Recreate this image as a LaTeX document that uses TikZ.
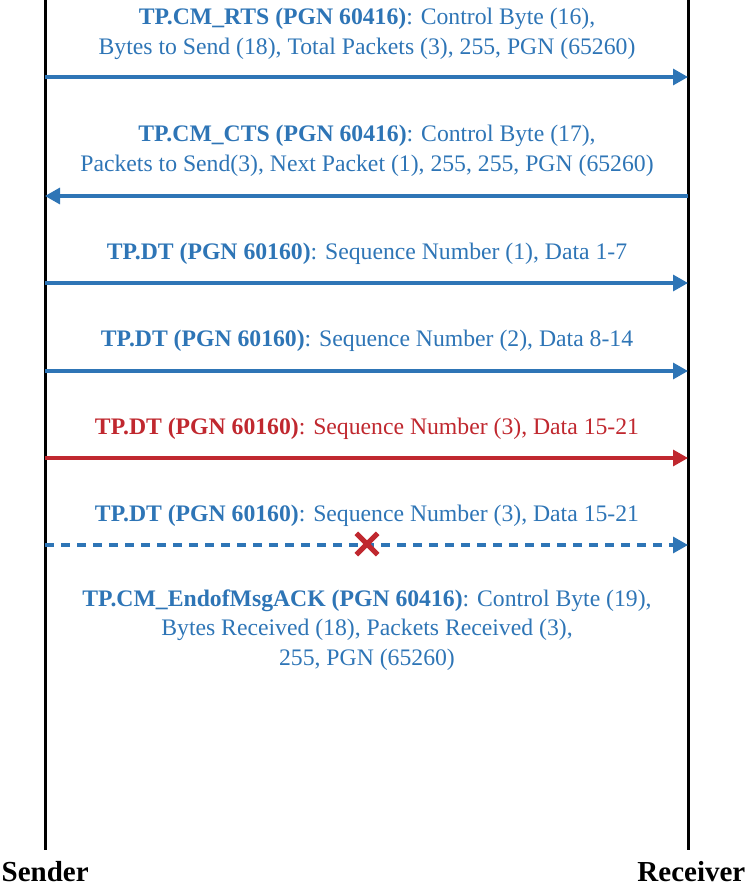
\documentclass[tikz,border=0pt]{standalone}
\usepackage{fontspec}
\setmainfont{Liberation Serif}
\usetikzlibrary{arrows.meta}
\definecolor{msgblue}{HTML}{2E75B6}
\definecolor{msgred}{HTML}{C0282F}
\begin{document}
\begin{tikzpicture}[x=1pt,y=-1pt,
  lifeline/.style={line width=3pt,black},
  msg/.style={line width=3.2pt,msgblue,-{Triangle[length=15pt,width=16pt]}},
  msgtext/.style={font=\fontsize{23.7}{29.5}\selectfont,text=msgblue,align=center,inner sep=0pt},
  actor/.style={font=\fontsize{29}{32}\selectfont\bfseries,inner sep=0pt}]
\useasboundingbox (0,0) rectangle (747,886);
\coordinate (st) at (45,0);
\coordinate (sb) at (45,850);
\coordinate (rt) at (688,0);
\coordinate (rb) at (688,850);
\draw[lifeline] (st) -- (sb);
\draw[lifeline] (rt) -- (rb);
\node[actor,anchor=base west] (sender) at (1.5,881) {Sender};
\node[actor,anchor=base east] (receiver) at (745.5,881) {Receiver};
% y positions
\foreach \n/\y in {1/77,2/196,3/283,4/371,5/458,6/545,7/688}{
  \coordinate (s\n) at (45,\y);
  \coordinate (r\n) at (688,\y);
}
\draw[msg] (s1) -- (r1);
\draw[msg] (r2) -- (s2);
\draw[msg] (s3) -- (r3);
\draw[msg] (s4) -- (r4);
\draw[msg,msgred] (s5) -- (r5);
\draw[msg,dash pattern=on 9pt off 7pt] (s6) -- (r6);
\node[inner sep=0pt,minimum size=21pt] (lost) at (367,544) {};
\draw[msgred,line width=5pt] (lost.north west) -- (lost.south east);
\draw[msgred,line width=5pt] (lost.north east) -- (lost.south west);
\node[msgtext] (t1) at (367,34) {\textbf{TP.CM\_RTS (PGN 60416)}: Control Byte (16),\\Bytes to Send (18), Total Packets (3), 255, PGN (65260)};
\node[msgtext] (t2) at (367,151) {\textbf{TP.CM\_CTS (PGN 60416)}: Control Byte (17),\\Packets to Send(3), Next Packet (1), 255, 255, PGN (65260)};
\node[msgtext] (t3) at (367,254) {\textbf{TP.DT (PGN 60160)}: Sequence Number (1), Data 1-7};
\node[msgtext] (t4) at (367,341) {\textbf{TP.DT (PGN 60160)}: Sequence Number (2), Data 8-14};
\node[msgtext,text=msgred] (t5) at (367,429) {\textbf{TP.DT (PGN 60160)}: Sequence Number (3), Data 15-21};
\node[msgtext] (t6) at (367,516) {\textbf{TP.DT (PGN 60160)}: Sequence Number (3), Data 15-21};
\node[msgtext] (t7) at (367,630) {\textbf{TP.CM\_EndofMsgACK (PGN 60416)}: Control Byte (19),\\Bytes Received (18), Packets Received (3),\\255, PGN (65260)};
\end{tikzpicture}
\end{document}
